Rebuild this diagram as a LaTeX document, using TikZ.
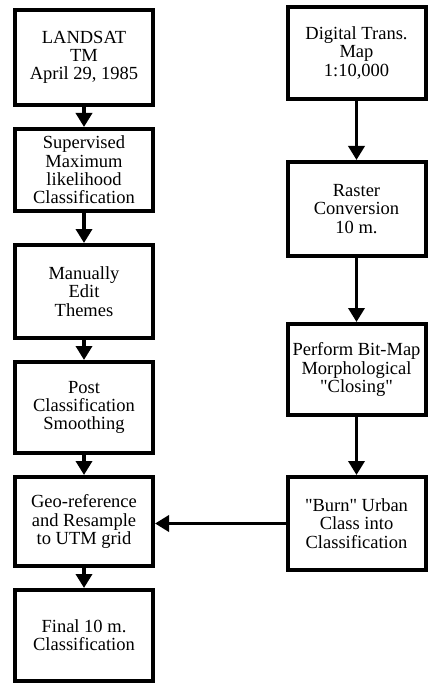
\documentclass[tikz,border=0pt]{standalone}
\usepackage{fontspec}
\setmainfont{Liberation Serif}
\usetikzlibrary{arrows.meta}

\begin{document}
\begin{tikzpicture}[x=1pt, y=-1pt, >={Triangle[length=14pt,width=16pt]},
   box/.style={rectangle, draw, line width=4pt, minimum width=138pt, minimum height=91pt,
      align=center, font=\fontsize{18.5}{18.3}\selectfont},
   flow/.style={line width=3.5pt}]
   \useasboundingbox (0,0) rectangle (435,687);
   % left column
   \node (l1) at (84, 57.5) [box, minimum height=95pt] {LANDSAT\\TM\\April 29, 1985};
   \node (l2) at (84, 170) [box, minimum height=82pt] {Supervised\\Maximum\\likelihood\\Classification};
   \node (l3) at (84, 291.5) [box, minimum height=93pt] {Manually\\Edit\\Themes};
   \node (l4) at (84, 407.5) [box] {Post\\Classification\\Smoothing};
   \node (l5) at (84, 521.5) [box, minimum height=89pt] {Geo-reference\\and Resample\\to UTM grid};
   \node (l6) at (84, 635.5) [box] {Final 10 m.\\Classification};
   % right column
   \node (r1) at (356.5, 53) [box, minimum height=92pt] {Digital Trans.\\Map\\1:10,000};
   \node (r2) at (356.5, 209) [box, minimum height=94pt] {Raster\\Conversion\\10 m.};
   \node (r3) at (356.5, 369.5) [box] {Perform Bit-Map\\Morphological\\\textquotedbl Closing\textquotedbl};
   \node (r4) at (356.5, 523.5) [box, minimum height=93pt] {\textquotedbl Burn\textquotedbl{} Urban\\Class into\\Classification};

   \draw (l1)[->, flow] -- (l2);
   \draw (l2)[->, flow] -- (l3);
   \draw (l3)[->, flow] -- (l4);
   \draw (l4)[->, flow] -- (l5);
   \draw (l5)[->, flow] -- (l6);
   \draw (r1)[->, flow] -- (r2);
   \draw (r2)[->, flow] -- (r3);
   \draw (r3)[->, flow] -- (r4);
   \draw (r4.west)[->, flow] -- (r4.west -| l5.east);

\end{tikzpicture}
\end{document}
